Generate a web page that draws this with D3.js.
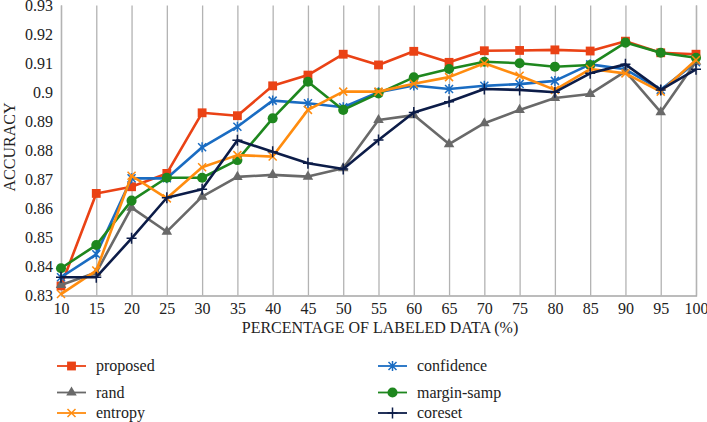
<!DOCTYPE html>
<html><head><meta charset="utf-8">
<script src="https://cdn.jsdelivr.net/npm/d3@7"></script>
<style>
html,body{margin:0;padding:0;background:#fff;}
svg{display:block;}
text{font-family:"Liberation Serif","Times New Roman",serif;fill:#222;}
</style></head>
<body>
<svg id="chart" width="707" height="422"></svg>
<script>
const xValues = [10,15,20,25,30,35,40,45,50,55,60,65,70,75,80,85,90,95,100];
const yTicks = [0.83,0.84,0.85,0.86,0.87,0.88,0.89,0.90,0.91,0.92,0.93];
const yTickLabels = ["0.83","0.84","0.85","0.86","0.87","0.88","0.89","0.9","0.91","0.92","0.93"];
const seriesNames = ["proposed","confidence","rand","margin-samp","entropy","coreset"];
const proposed   = [0.8333,0.8652,0.8675,0.8721,0.8930,0.8920,0.9023,0.9060,0.9132,0.9095,0.9142,0.9104,0.9144,0.9145,0.9147,0.9143,0.9177,0.9137,0.9132];
const confidence = [0.8363,0.8442,0.8704,0.8704,0.8811,0.8882,0.8972,0.8963,0.8949,0.9001,0.9024,0.9012,0.9023,0.9029,0.9040,0.9097,0.9080,0.9009,0.9104];
const rand       = [0.8336,0.8379,0.8603,0.8520,0.8641,0.8709,0.8716,0.8710,0.8739,0.8905,0.8922,0.8822,0.8894,0.8940,0.8981,0.8995,0.9073,0.8932,0.9106];
const marginSamp = [0.8394,0.8474,0.8627,0.8706,0.8706,0.8767,0.8911,0.9037,0.8940,0.8997,0.9052,0.9081,0.9106,0.9101,0.9089,0.9095,0.9172,0.9137,0.9120];
const entropy    = [0.8305,0.8386,0.8713,0.8635,0.8742,0.8784,0.8779,0.8940,0.9003,0.9003,0.9030,0.9053,0.9101,0.9058,0.9009,0.9081,0.9066,0.9003,0.9112];
const coreset    = [0.8363,0.8363,0.8497,0.8637,0.8666,0.8835,0.8796,0.8756,0.8736,0.8836,0.8931,0.8968,0.9012,0.9009,0.9001,0.9066,0.9097,0.9009,0.9080];
const xTitle = "PERCENTAGE OF LABELED DATA (%)";
const yTitle = "ACCURACY";

const seriesValues = [proposed, confidence, rand, marginSamp, entropy, coreset];
const colors = ["#ea4215","#1a6cc2","#696969","#1e871e","#ff8c0f","#0c1c48"];
const shapes = ["square","asterisk","triangle","circle","x","plus"];

const svg = d3.select("#chart");
const plotLeft = 61, plotRight = 696, plotTop = 5.5, plotBottom = 295.5;
const x = d3.scaleLinear().domain([10,100]).range([plotLeft,plotRight]);
const y = d3.scaleLinear().domain([0.83,0.93]).range([plotBottom,plotTop]);

// x axis with gridlines
const xAxis = svg.append("g").attr("transform",`translate(0,${plotBottom})`)
  .call(d3.axisBottom(x).tickValues(xValues).tickFormat(d3.format("d")).tickSize(-(plotBottom-plotTop)).tickPadding(7));
xAxis.select(".domain").attr("stroke","#a6a6a6").attr("stroke-width",1.3);
xAxis.selectAll(".tick line").attr("stroke","#b3b3b3").attr("stroke-width",1.3);
xAxis.selectAll(".tick text").attr("font-size",16).attr("font-family","Liberation Serif").attr("fill","#222");

// y axis
const yAxis = svg.append("g").attr("transform",`translate(${plotLeft},0)`)
  .call(d3.axisLeft(y).tickValues(yTicks).tickFormat((d,i)=>yTickLabels[i]).tickSize(0).tickPadding(8));
yAxis.select(".domain").remove();
yAxis.selectAll(".tick text").attr("font-size",16).attr("font-family","Liberation Serif").attr("fill","#222");

// titles
svg.append("text").attr("x",380).attr("y",333).attr("text-anchor","middle").attr("font-size",16).text(xTitle);
svg.append("text").attr("transform","translate(15,147) rotate(-90)").attr("text-anchor","middle").attr("font-size",16).text(yTitle);

function marker(g, shape, color, cx, cy) {
  const s = g.append("g").attr("transform",`translate(${cx},${cy})`);
  if (shape === "square") {
    s.append("path").attr("d", d3.symbol(d3.symbolSquare, 78)()).attr("fill",color);
  } else if (shape === "triangle") {
    s.append("path").attr("d", d3.symbol(d3.symbolTriangle, 48)()).attr("fill",color);
  } else if (shape === "circle") {
    s.append("path").attr("d", d3.symbol(d3.symbolCircle, 80)()).attr("fill",color);
  } else if (shape === "x") {
    s.append("path").attr("d","M-4,-4L4,4M-4,4L4,-4").attr("stroke",color).attr("stroke-width",1.5).attr("fill","none");
  } else if (shape === "asterisk") {
    s.append("path").attr("d","M-4,-4L4,4M-4,4L4,-4M0,-5L0,5").attr("stroke",color).attr("stroke-width",1.5).attr("fill","none");
  } else if (shape === "plus") {
    s.append("path").attr("d","M-5,0L5,0M0,-5.5L0,5.5").attr("stroke",color).attr("stroke-width",1.5).attr("fill","none");
  }
}

const line = d3.line().x((d,i)=>x(xValues[i])).y(d=>y(d));
seriesValues.forEach((vals, k) => {
  const g = svg.append("g");
  g.append("path").datum(vals).attr("d", line).attr("fill","none")
    .attr("stroke", colors[k]).attr("stroke-width", 2.6).attr("stroke-linejoin","round");
  vals.forEach((v,i) => marker(g, shapes[k], colors[k], x(xValues[i]), y(v)));
});

// legend
const legendPos = [
  {lx:57, ly:366}, {lx:378, ly:366},
  {lx:57, ly:392.5}, {lx:378, ly:392.5},
  {lx:57, ly:413}, {lx:378, ly:413}
];
seriesNames.forEach((name,k) => {
  const p = legendPos[k];
  const g = svg.append("g");
  g.append("line").attr("x1",p.lx).attr("x2",p.lx+29).attr("y1",p.ly).attr("y2",p.ly)
    .attr("stroke",colors[k]).attr("stroke-width",1.8);
  marker(g, shapes[k], colors[k], p.lx+14.5, p.ly);
  g.append("text").attr("x",p.lx+39).attr("y",p.ly).attr("dy","0.32em").attr("font-size",16).text(name);
});
</script>
</body></html>
